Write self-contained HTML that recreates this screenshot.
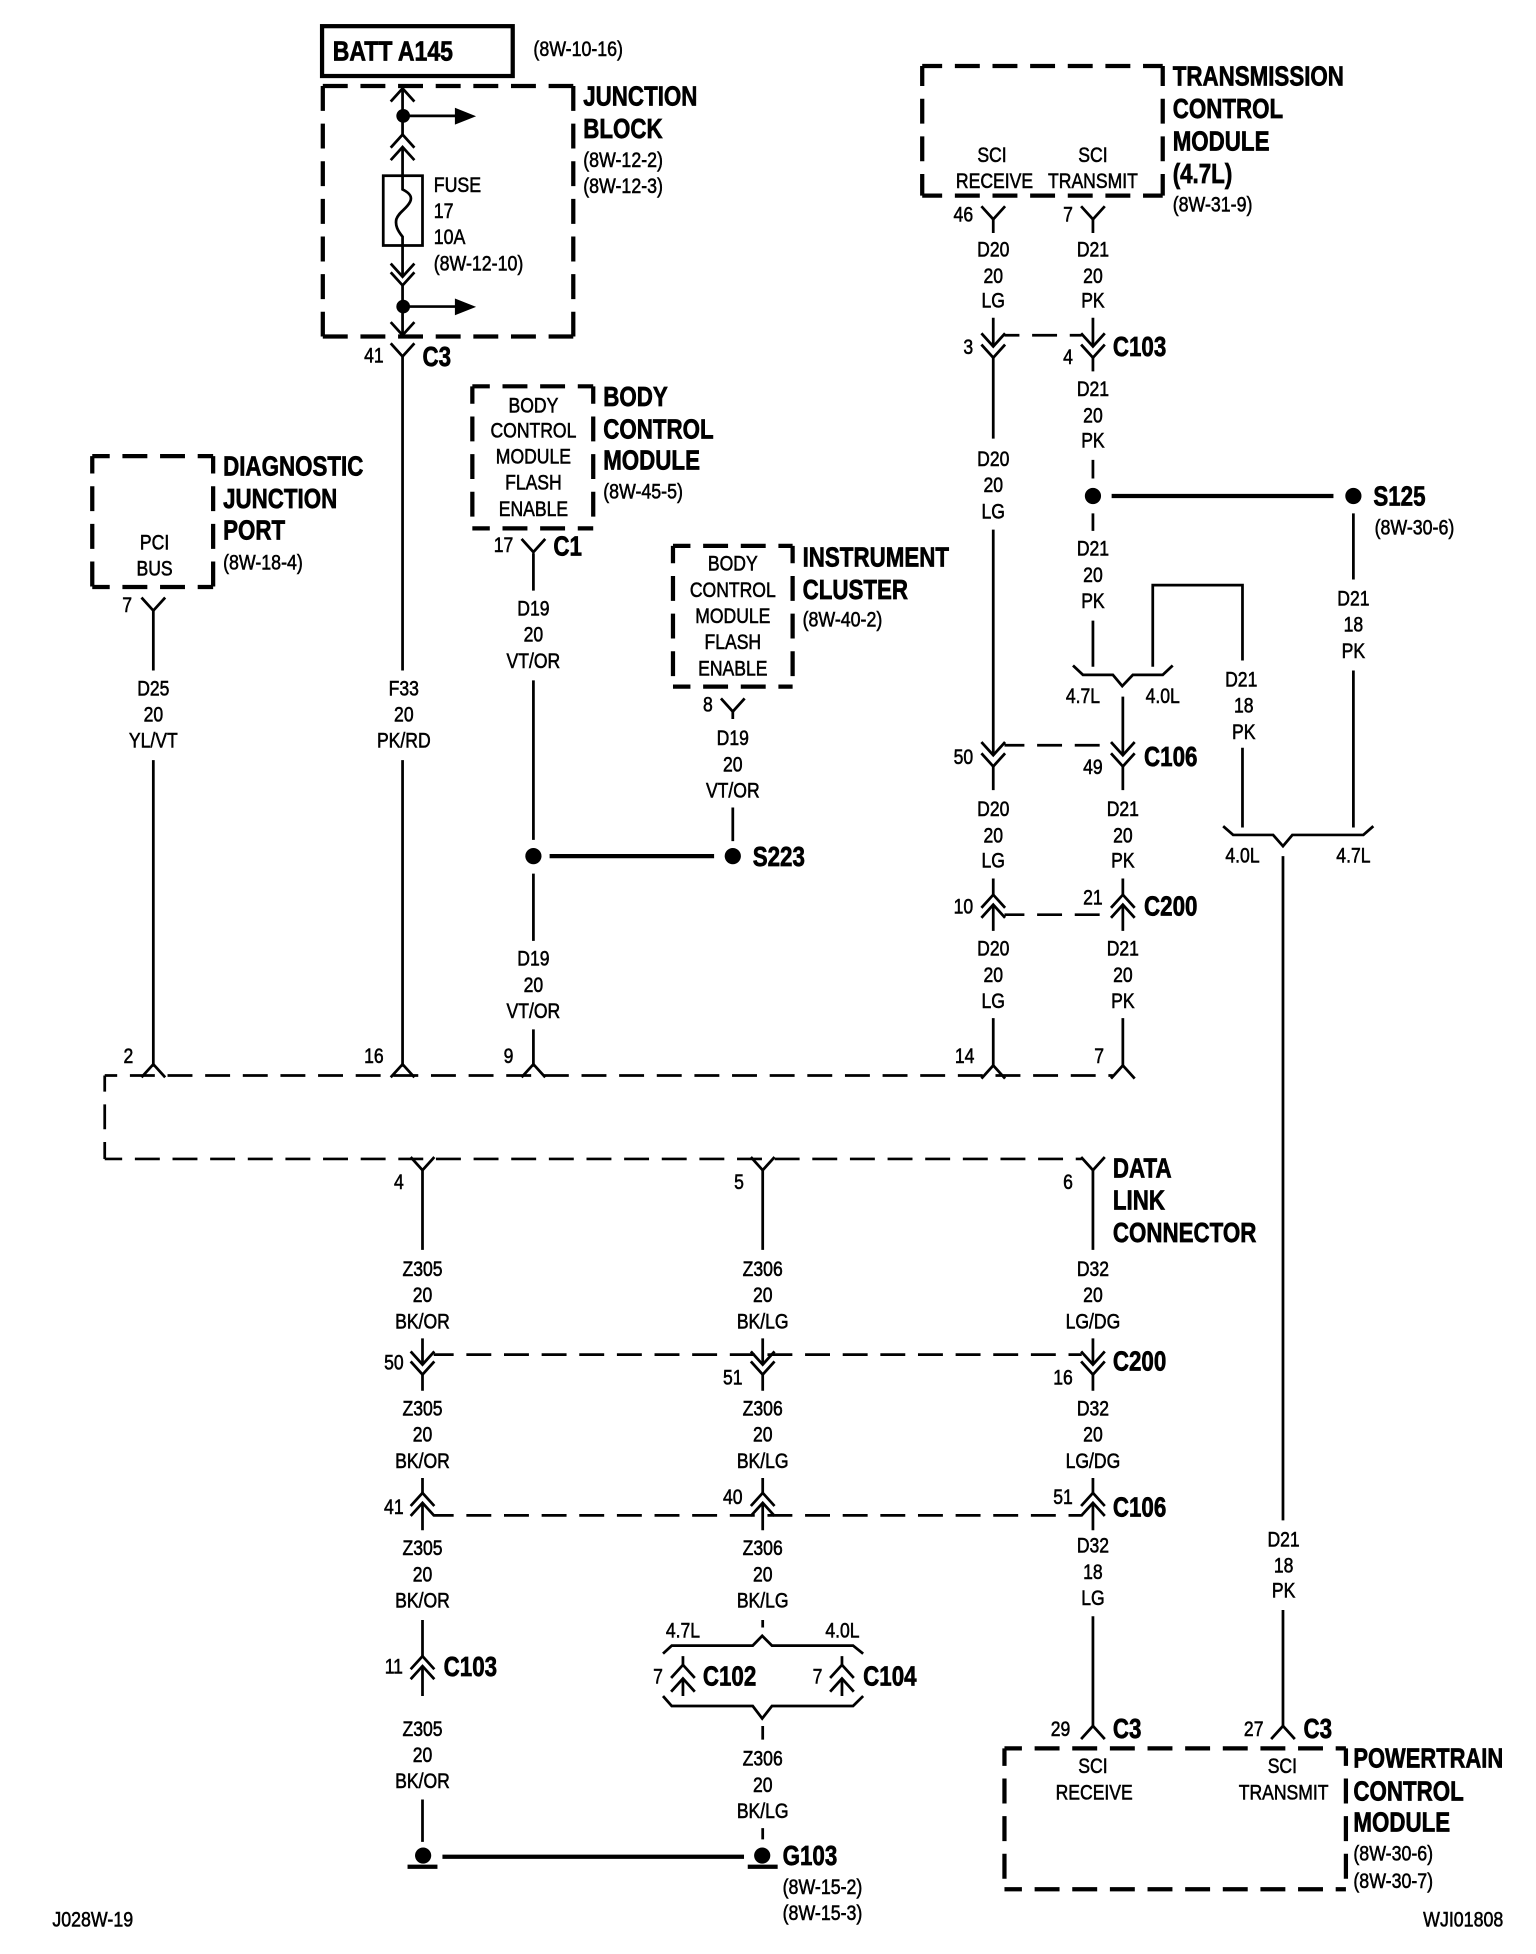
<!DOCTYPE html>
<html><head><meta charset="utf-8">
<style>
html,body{margin:0;padding:0;background:#fff}
svg{display:block}
text{font-family:"Liberation Sans",Arial,sans-serif;fill:#000;dominant-baseline:central;stroke:#000;stroke-width:.45;transform-box:fill-box}
.n{font-size:17px;text-anchor:middle;transform-origin:50% 50%;transform:translateY(.7px) scaleX(.83)}
.l{font-size:17px;text-anchor:start;transform-origin:0 50%;transform:translateY(.7px) scaleX(.84)}
.b{font-size:22px;font-weight:700;text-anchor:start;transform-origin:0 50%;transform:translateY(.7px) scaleX(.815);stroke-width:.55}
.w{fill:none;stroke:#000;stroke-width:2.2}
.t{fill:none;stroke:#000;stroke-width:3.4}
.d{fill:none;stroke:#000;stroke-width:3.4;stroke-dasharray:20 10.2}
.e{fill:none;stroke:#000;stroke-width:2.2;stroke-dasharray:20 10.2}
</style></head><body>
<svg width="1536" height="1954" viewBox="0 0 1232.5 1568" xmlns="http://www.w3.org/2000/svg">
<defs>
<path id="v" d="M-9.500-10.500L0 0L9.500-10.500" fill="none" stroke="#000" stroke-width="2.2"/>
<path id="u" d="M-9.500 10.500L0 0L9.500 10.500" fill="none" stroke="#000" stroke-width="2.2"/>
</defs>

<!-- Boxes -->
<rect x="258.4" y="21" width="153" height="40" class="t"/>
<path class="d" d="M259 69H460M259 69V270M259 270H460M460 69V270"/>
<path class="d" style="stroke-dashoffset:4" d="M740 53H933M740 53V157M740 157H933M933 53V157"/>
<path class="d" style="stroke-dashoffset:6" d="M379 310H476M379 310V424M379 424H476M476 310V424"/>
<path class="d" style="stroke-dashoffset:6" d="M74 366H171M74 366V471M74 471H171M171 366V471"/>
<path class="d" style="stroke-dashoffset:6" d="M540 438H636M540 438V551M540 551H636M636 438V551"/>
<path class="d" style="stroke-dashoffset:6" d="M806 1403H1080M806 1403V1516M806 1516H1080M1080 1403V1516"/>

<!-- Data link bus -->
<path class="e" style="stroke-dashoffset:10" d="M84 863H893"/>
<path class="e" style="stroke-dashoffset:7" d="M84 863V930"/>
<path class="e" style="stroke-dashoffset:6" d="M84 930H868"/>

<!-- Junction block internals -->
<path class="w" d="M323 71V108M323 118V141M323 141V152C329 155 331 158 329 162C326 168 320 170 318 176C317 181 319 185 323 190V222M323 229V269M323 286V538M323 93H366M323 246H366"/>
<rect x="307.5" y="141" width="31.5" height="56" class="w"/>
<circle cx="323.5" cy="93" r="5.5"/><circle cx="323.5" cy="246" r="5.5"/>
<path d="M365 86.500L382 93.300L365 100z"/><path d="M365 239.500L382 246.300L365 253z"/>
<use href="#u" x="323" y="71"/><use href="#u" x="323" y="108"/><use href="#u" x="323" y="118"/>
<use href="#v" x="323" y="222"/><use href="#v" x="323" y="229"/><use href="#v" x="323" y="269"/><use href="#v" x="323" y="286"/>

<!-- Wires -->
<path class="w" d="
M123 490V538M123 610V856
M323 610V856
M428 444V474M428 546V674M428 701V755M428 826V856
M588 571V577M588 648V675
M797 176V187M877 176V187
M797 255V278M877 255V278
M797 287V352M877 287V298
M797 425V606M877 369V384M877 412V426M877 498V535
M1086 412V465M1086 538V664
M925 535V469.500H997V530M997 600V664
M901 559V606M901 615V634
M797 615V634
M797 705V718M901 705V718M797 726V747M901 726V747
M797 817V856M901 817V856
M339 939V1003M612 939V1003M877 939V1003
M339 1074V1095M612 1074V1095M877 1074V1095
M339 1103V1116M612 1103V1116M877 1103V1116
M339 1186V1198M612 1186V1198M877 1186V1198
M339 1206V1228M612 1206V1228M877 1206V1228
M339 1300V1329M339 1337V1361
M339 1444V1478M612 1300V1306M612 1385V1396M612 1467V1476
M877 1297V1385M1029.500 687V1220M1029.500 1292V1385
M548 1329V1336M548 1347V1361M675.600 1329V1336M675.600 1347V1361
"/>

<!-- Single forks -->
<use href="#v" x="123" y="490"/>
<use href="#v" x="428" y="443"/>
<use href="#v" x="588" y="571"/>
<use href="#v" x="797" y="176"/><use href="#v" x="877" y="176"/>
<use href="#u" x="123" y="854"/><use href="#u" x="323" y="854"/><use href="#u" x="428" y="854"/><use href="#u" x="797" y="855"/><use href="#u" x="901" y="855"/>
<use href="#v" x="339" y="939"/><use href="#v" x="612" y="939"/><use href="#v" x="877" y="939"/>
<use href="#u" x="877" y="1385"/><use href="#u" x="1029.500" y="1385"/>

<!-- Double connectors -->
<use href="#v" x="797" y="278"/><use href="#v" x="797" y="287"/><use href="#v" x="877" y="278"/><use href="#v" x="877" y="287"/>
<use href="#v" x="797" y="606"/><use href="#v" x="797" y="615"/><use href="#v" x="901" y="606"/><use href="#v" x="901" y="615"/>
<use href="#u" x="797" y="718"/><use href="#u" x="797" y="726"/><use href="#u" x="901" y="718"/><use href="#u" x="901" y="726"/>
<use href="#v" x="339" y="1095"/><use href="#v" x="339" y="1103"/><use href="#v" x="612" y="1095"/><use href="#v" x="612" y="1103"/><use href="#v" x="877" y="1095"/><use href="#v" x="877" y="1103"/>
<use href="#u" x="339" y="1198"/><use href="#u" x="339" y="1206"/><use href="#u" x="612" y="1198"/><use href="#u" x="612" y="1206"/><use href="#u" x="877" y="1198"/><use href="#u" x="877" y="1206"/>
<use href="#u" x="339" y="1329"/><use href="#u" x="339" y="1337"/>
<use href="#u" x="548" y="1336"/><use href="#u" x="548" y="1347"/><use href="#u" x="675.600" y="1336"/><use href="#u" x="675.600" y="1347"/>

<!-- Dashed links -->
<path class="e" style="stroke-dashoffset:8" d="M806 269H868"/>
<path class="e" style="stroke-dashoffset:4" d="M806 598H892"/>
<path class="e" style="stroke-dashoffset:4" d="M806 734H892"/>
<path class="e" style="stroke-dashoffset:4" d="M348 1087H868"/>
<path class="e" style="stroke-dashoffset:4" d="M348 1216H868"/>

<!-- Brackets -->
<path class="w" d="M861 534L869 541.600H893L900.500 550.500L909 541.600H933L941 534"/>
<path class="w" d="M981.500 663L989.500 670H1021.600L1029.500 679L1037 670H1094L1102 663"/>
<path class="w" d="M532 1327L539 1320.500H604L611.600 1312.700L619.400 1320.500H684.500L692.600 1327"/>
<path class="w" d="M532 1361L539 1369H604L611.600 1379L619.400 1369H684.500L692.600 1361"/>

<!-- Splices -->
<path class="t" d="M441 687H573M892 398H1070M355 1490H597M327 1498H351M600 1498H624"/>
<circle cx="428" cy="687" r="6.500"/><circle cx="588" cy="687" r="6.500"/>
<circle cx="877" cy="398" r="6.500"/><circle cx="1086" cy="398" r="6.500"/>
<circle cx="339.500" cy="1489" r="6.500"/><circle cx="611.600" cy="1489" r="6.500"/>

<!-- Top labels -->
<text class="b" x="267" y="41" style="transform:translateY(.7px) scaleX(.84)">BATT A145</text>
<text class="l" x="428" y="39">(8W-10-16)</text>
<text class="b" x="468" y="77">JUNCTION</text>
<text class="b" x="468" y="103">BLOCK</text>
<text class="l" x="468" y="128">(8W-12-2)</text>
<text class="l" x="468" y="149">(8W-12-3)</text>
<text class="l" x="348" y="148">FUSE</text>
<text class="l" x="348" y="169">17</text>
<text class="l" x="348" y="190">10A</text>
<text class="l" x="348" y="211">(8W-12-10)</text>
<text class="n" x="300" y="285">41</text>
<text class="b" x="339" y="286">C3</text>

<text class="b" x="941" y="61">TRANSMISSION</text>
<text class="b" x="941" y="87">CONTROL</text>
<text class="b" x="941" y="113">MODULE</text>
<text class="b" x="941" y="139">(4.7L)</text>
<text class="l" x="941" y="164">(8W-31-9)</text>
<text class="n" x="796" y="124">SCI</text>
<text class="n" x="798" y="145">RECEIVE</text>
<text class="n" x="877" y="124">SCI</text>
<text class="n" x="877" y="145">TRANSMIT</text>
<text class="n" x="773" y="172">46</text>
<text class="n" x="857" y="172">7</text>
<text class="n" x="797" y="200">D20</text><text class="n" x="797" y="221">20</text><text class="n" x="797" y="241">LG</text>
<text class="n" x="877" y="200">D21</text><text class="n" x="877" y="221">20</text><text class="n" x="877" y="241">PK</text>
<text class="n" x="777" y="278">3</text>
<text class="n" x="857" y="286">4</text>
<text class="b" x="893" y="278">C103</text>
<text class="n" x="877" y="312">D21</text><text class="n" x="877" y="333">20</text><text class="n" x="877" y="353">PK</text>
<text class="n" x="797" y="368">D20</text><text class="n" x="797" y="389">20</text><text class="n" x="797" y="410">LG</text>
<text class="b" x="1102" y="398">S125</text>
<text class="l" x="1103" y="423">(8W-30-6)</text>
<text class="n" x="877" y="440">D21</text><text class="n" x="877" y="461">20</text><text class="n" x="877" y="482">PK</text>
<text class="n" x="1086" y="480">D21</text><text class="n" x="1086" y="501">18</text><text class="n" x="1086" y="522">PK</text>
<text class="n" x="996" y="545">D21</text><text class="n" x="998" y="566">18</text><text class="n" x="998" y="587">PK</text>
<text class="n" x="869" y="558">4.7L</text>
<text class="n" x="933" y="558">4.0L</text>
<text class="n" x="773" y="607">50</text>
<text class="n" x="877" y="615">49</text>
<text class="b" x="918" y="607">C106</text>
<text class="n" x="797" y="649">D20</text><text class="n" x="797" y="670">20</text><text class="n" x="797" y="690">LG</text>
<text class="n" x="901" y="649">D21</text><text class="n" x="901" y="670">20</text><text class="n" x="901" y="690">PK</text>
<text class="n" x="997" y="686">4.0L</text>
<text class="n" x="1086" y="686">4.7L</text>
<text class="n" x="773" y="727">10</text>
<text class="n" x="877" y="720">21</text>
<text class="b" x="918" y="727">C200</text>
<text class="n" x="797" y="761">D20</text><text class="n" x="797" y="782">20</text><text class="n" x="797" y="803">LG</text>
<text class="n" x="901" y="761">D21</text><text class="n" x="901" y="782">20</text><text class="n" x="901" y="803">PK</text>

<!-- Body control -->
<text class="n" x="428" y="325">BODY</text><text class="n" x="428" y="345">CONTROL</text><text class="n" x="428" y="366">MODULE</text><text class="n" x="428" y="387">FLASH</text><text class="n" x="428" y="408">ENABLE</text>
<text class="b" x="484" y="318">BODY</text>
<text class="b" x="484" y="344">CONTROL</text>
<text class="b" x="484" y="369">MODULE</text>
<text class="l" x="484" y="394">(8W-45-5)</text>
<text class="n" x="404" y="437">17</text>
<text class="b" x="444" y="438">C1</text>
<text class="n" x="428" y="488">D19</text><text class="n" x="428" y="509">20</text><text class="n" x="428" y="530">VT/OR</text>
<text class="n" x="428" y="769">D19</text><text class="n" x="428" y="790">20</text><text class="n" x="428" y="811">VT/OR</text>

<!-- Instrument cluster -->
<text class="n" x="588" y="452">BODY</text><text class="n" x="588" y="473">CONTROL</text><text class="n" x="588" y="494">MODULE</text><text class="n" x="588" y="515">FLASH</text><text class="n" x="588" y="536">ENABLE</text>
<text class="b" x="644" y="447">INSTRUMENT</text>
<text class="b" x="644" y="473">CLUSTER</text>
<text class="l" x="644" y="497">(8W-40-2)</text>
<text class="n" x="568" y="565">8</text>
<text class="n" x="588" y="592">D19</text><text class="n" x="588" y="613">20</text><text class="n" x="588" y="634">VT/OR</text>
<text class="b" x="604" y="687">S223</text>

<!-- Diagnostic -->
<text class="n" x="124" y="435">PCI</text><text class="n" x="124" y="456">BUS</text>
<text class="b" x="179" y="374">DIAGNOSTIC</text>
<text class="b" x="179" y="400">JUNCTION</text>
<text class="b" x="179" y="425">PORT</text>
<text class="l" x="179" y="451">(8W-18-4)</text>
<text class="n" x="102" y="485">7</text>
<text class="n" x="123" y="552">D25</text><text class="n" x="123" y="573">20</text><text class="n" x="123" y="594">YL/VT</text>
<text class="n" x="324" y="552">F33</text><text class="n" x="324" y="573">20</text><text class="n" x="324" y="594">PK/RD</text>

<!-- Bus labels -->
<text class="n" x="103" y="847">2</text><text class="n" x="300" y="847">16</text><text class="n" x="408" y="847">9</text><text class="n" x="774" y="847">14</text><text class="n" x="882" y="847">7</text>
<text class="n" x="320" y="948">4</text><text class="n" x="593" y="948">5</text><text class="n" x="857" y="948">6</text>
<text class="b" x="893" y="937">DATA</text><text class="b" x="893" y="963">LINK</text><text class="b" x="893" y="989">CONNECTOR</text>

<!-- Lower wire labels -->
<text class="n" x="339" y="1018">Z305</text><text class="n" x="339" y="1039">20</text><text class="n" x="339" y="1060">BK/OR</text>
<text class="n" x="612" y="1018">Z306</text><text class="n" x="612" y="1039">20</text><text class="n" x="612" y="1060">BK/LG</text>
<text class="n" x="877" y="1018">D32</text><text class="n" x="877" y="1039">20</text><text class="n" x="877" y="1060">LG/DG</text>
<text class="n" x="316" y="1093">50</text><text class="n" x="588" y="1105">51</text><text class="n" x="853" y="1105">16</text>
<text class="b" x="893" y="1092">C200</text>
<text class="n" x="339" y="1130">Z305</text><text class="n" x="339" y="1151">20</text><text class="n" x="339" y="1172">BK/OR</text>
<text class="n" x="612" y="1130">Z306</text><text class="n" x="612" y="1151">20</text><text class="n" x="612" y="1172">BK/LG</text>
<text class="n" x="877" y="1130">D32</text><text class="n" x="877" y="1151">20</text><text class="n" x="877" y="1172">LG/DG</text>
<text class="n" x="316" y="1209">41</text><text class="n" x="588" y="1201">40</text><text class="n" x="853" y="1201">51</text>
<text class="b" x="893" y="1209">C106</text>
<text class="n" x="339" y="1242">Z305</text><text class="n" x="339" y="1263">20</text><text class="n" x="339" y="1284">BK/OR</text>
<text class="n" x="612" y="1242">Z306</text><text class="n" x="612" y="1263">20</text><text class="n" x="612" y="1284">BK/LG</text>
<text class="n" x="877" y="1240">D32</text><text class="n" x="877" y="1261">18</text><text class="n" x="877" y="1282">LG</text>
<text class="n" x="1030" y="1235">D21</text><text class="n" x="1030" y="1256">18</text><text class="n" x="1030" y="1276">PK</text>
<text class="n" x="548" y="1308">4.7L</text><text class="n" x="676" y="1308">4.0L</text>
<text class="n" x="316" y="1337">11</text>
<text class="b" x="356" y="1337">C103</text>
<text class="n" x="528" y="1345">7</text>
<text class="b" x="564" y="1345">C102</text>
<text class="n" x="656" y="1345">7</text>
<text class="b" x="692.600" y="1345">C104</text>
<text class="n" x="339" y="1387">Z305</text><text class="n" x="339" y="1408">20</text><text class="n" x="339" y="1429">BK/OR</text>
<text class="n" x="612" y="1411">Z306</text><text class="n" x="612" y="1432">20</text><text class="n" x="612" y="1453">BK/LG</text>
<text class="n" x="851" y="1387">29</text><text class="b" x="893" y="1387">C3</text>
<text class="n" x="1006" y="1387">27</text><text class="b" x="1046" y="1387">C3</text>
<text class="n" x="877" y="1417">SCI</text><text class="n" x="878" y="1438">RECEIVE</text>
<text class="n" x="1029" y="1417">SCI</text><text class="n" x="1030" y="1438">TRANSMIT</text>
<text class="b" x="1086" y="1411" style="transform:translateY(.7px) scaleX(.8)">POWERTRAIN</text>
<text class="b" x="1086" y="1437">CONTROL</text>
<text class="b" x="1086" y="1462">MODULE</text>
<text class="l" x="1086" y="1487">(8W-30-6)</text>
<text class="l" x="1086" y="1509">(8W-30-7)</text>
<text class="b" x="628" y="1489">G103</text>
<text class="l" x="628" y="1514">(8W-15-2)</text>
<text class="l" x="628" y="1535">(8W-15-3)</text>
<text class="l" x="42" y="1540">J028W-19</text>
<text class="l" x="1142" y="1540">WJI01808</text>
</svg>
</body></html>
